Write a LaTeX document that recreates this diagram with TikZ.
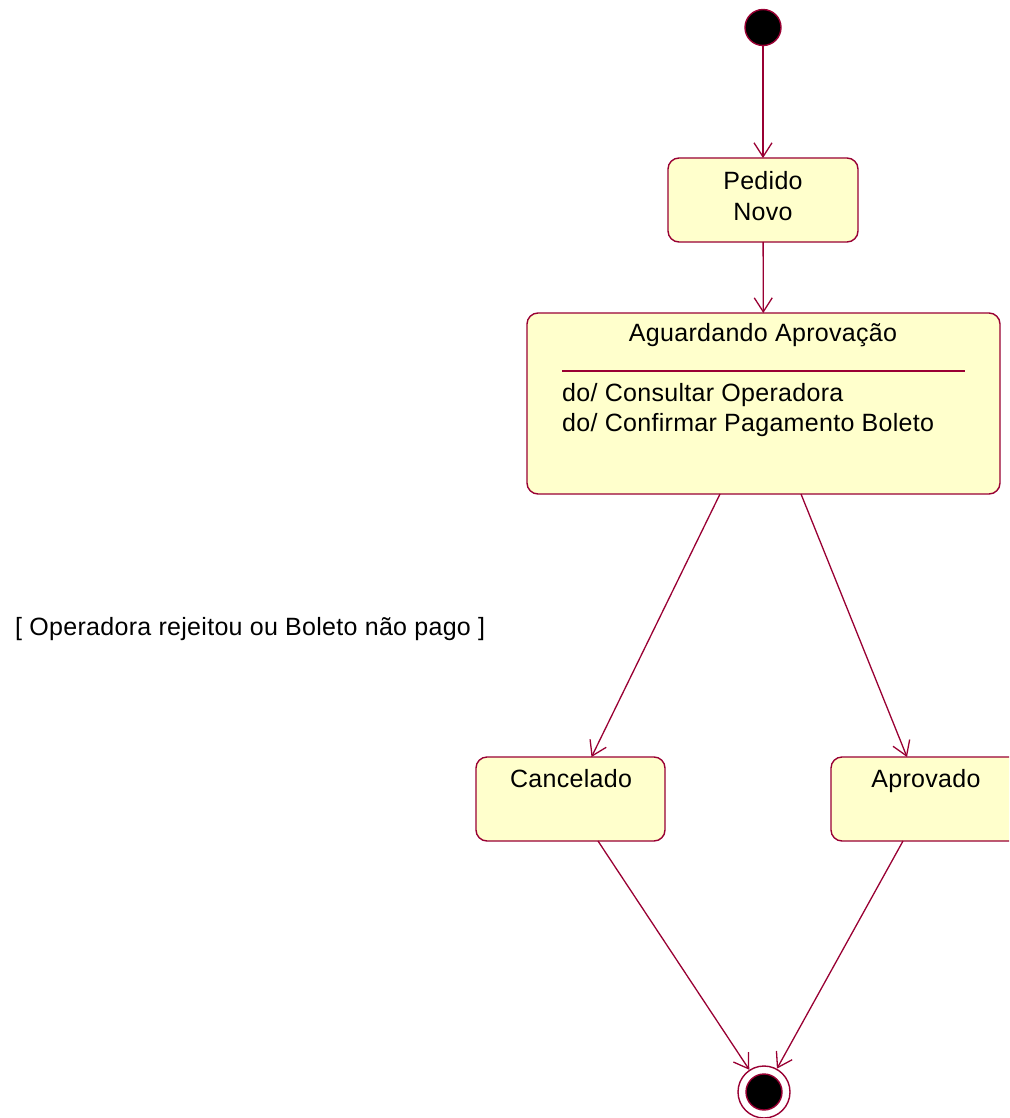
\documentclass[tikz,border=0pt]{standalone}
\usepackage{fontspec}
\setmainfont[LetterSpace=1.2]{Liberation Sans}
\usetikzlibrary{arrows.meta,calc}
\definecolor{umlred}{HTML}{990033}
\definecolor{umlfill}{HTML}{FFFFCC}
\begin{document}
\begin{tikzpicture}[x=1pt,y=-1pt,
  state/.style={draw=umlred,fill=umlfill,rounded corners=11pt,line width=1.4pt,inner sep=0pt,outer sep=0pt},
  txt/.style={font=\fontsize{25}{30.5}\selectfont,inner sep=0pt,text=black},
  trans/.style={draw=umlred,line width=1.3pt,-{Straight Barb[length=14pt,width=18pt,line width=1.3pt]}}]
\clip (0,0) rectangle (1009,1118);
% initial state
\node[circle,fill=black,draw=umlred,line width=1.4pt,minimum size=36pt,inner sep=0pt] (init) at (763,27.5) {};
% states
\node[state,minimum width=190pt,minimum height=84pt] (ped) at (763,200) {};
\node[txt,align=center] (pedt) at (763,196) {Pedido\\Novo};
\node[state,minimum width=473pt,minimum height=181pt] (ag) at (763.5,403.5) {};
\node[txt] (agt) at (763,335) {Aguardando Aprovação};
\draw[umlred,line width=1.4pt] ($(ag.north west)+(35,58)$) coordinate (sepa) -- ($(ag.north east)+(-35,58)$) coordinate (sepb);
\node[txt,align=left,anchor=west] (agdo) at (562,410) {do/ Consultar Operadora\\do/ Confirmar Pagamento Boleto};
\node[state,minimum width=189pt,minimum height=84pt] (canc) at (570.5,799) {};
\node[txt,anchor=base] (canct) at (571,787) {Cancelado};
\node[state,minimum width=190pt,minimum height=84pt] (apr) at (926,799) {};
\node[txt,anchor=base] (aprt) at (926,787) {Aprovado};
% final state
\node[circle,draw=umlred,fill=white,line width=1.4pt,minimum size=52pt,inner sep=0pt] (fin) at (764,1092) {};
\node[circle,fill=black,draw=umlred,line width=1.4pt,minimum size=36pt,inner sep=0pt] (fininner) at (fin.center) {};
% guard label
\node[txt,anchor=west] (guard) at (15,629) {[ Operadora rejeitou ou Boleto não pago ]};
% transitions
\draw[trans] (init) -- (ped);
\draw[trans] (ped) -- (ag);
\draw[trans] ($(ag.south)+(-43.5,0)$) -- ($(canc.north)+(21,0)$);
\draw[trans] ($(ag.south)+(37.5,0)$) -- ($(apr.north)+(-19,0)$);
\draw[trans] ($(canc.south)+(27.5,0)$) -- (fin);
\draw[trans] ($(apr.south)+(-23,0)$) -- (fin);
\end{tikzpicture}
\end{document}
